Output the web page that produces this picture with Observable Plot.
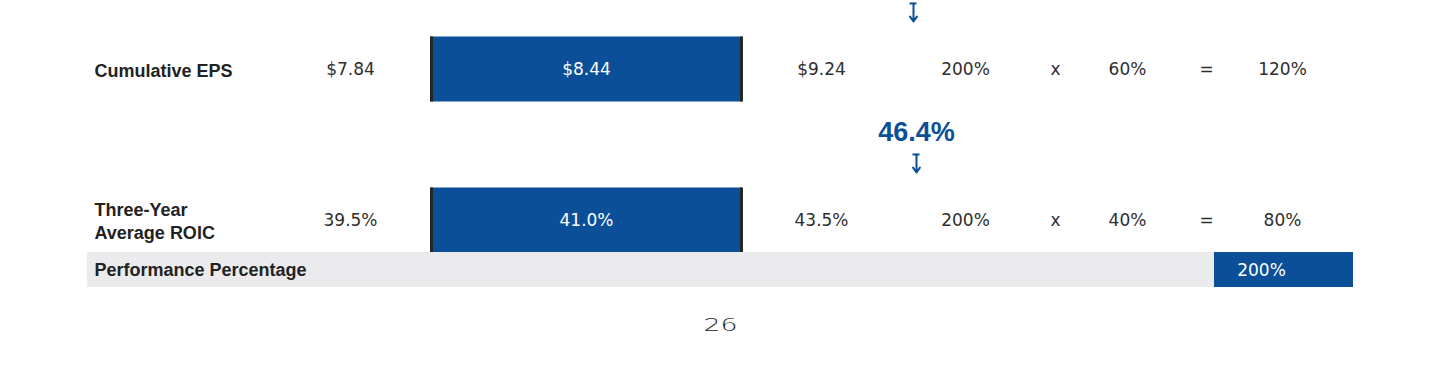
<!DOCTYPE html>
<html>
<head>
<meta charset="utf-8">
<script src="https://cdn.jsdelivr.net/npm/d3@7"></script>
<script src="https://cdn.jsdelivr.net/npm/@observablehq/plot@0.6"></script>
<style>
  html, body { margin: 0; padding: 0; background: #fff; }
  #chart svg { display: block; }
</style>
</head>
<body>
<div id="chart"></div>
<script>
// ---- data ----
const metrics   = ["Cumulative EPS", "Three-Year\nAverage ROIC"];
const threshold = ["$7.84", "39.5%"];
const target    = ["$8.44", "41.0%"];
const maximum   = ["$9.24", "43.5%"];
const payout    = ["200%", "200%"];
const weight    = ["60%", "40%"];
const weighted  = ["120%", "80%"];
const actual    = ["", "46.4%"];
const totalLabel = ["Performance Percentage"];
const totalValue = ["200%"];
const pageNumber = ["26"];

// ---- layout (pixel positions) ----
const W = 1440, H = 376;
const rowY = [69, 220];
const barHalf = 32.5;
const col = {label: 94, threshold: 350, target: 586, maximum: 821, payout: 965,
             times: 1055, weight: 1127, equals: 1206, result: 1282};
const barX = [430, 742];
const arrowX = [913, 916];
const band = {x1: 87, x2: 1353, split: 1214, y1: 252, y2: 287};

const BLUE = "#0c4f99";
const INK = "#222222";
const NUM_INK = "#2e2e2e";
const NUM_FONT = "DejaVu Sans";
const LAB_FONT = "Liberation Sans";

const rows = metrics.map((m, i) => ({
  i, metric: m, threshold: threshold[i], target: target[i], maximum: maximum[i],
  payout: payout[i], weight: weight[i], weighted: weighted[i], actual: actual[i]
}));

const yc = d => rowY[d.i];
const numText = (field, x, extra = {}) => Plot.text(rows, {
  x: () => x, y: yc, text: field, fill: NUM_INK, fontSize: 17,
  fontFamily: NUM_FONT, textAnchor: "middle", lineAnchor: "middle", ...extra
});

const chart = Plot.plot({
  width: W, height: H, margin: 0,
  x: {type: "linear", domain: [0, W], range: [0, W], axis: null},
  y: {type: "linear", domain: [0, H], range: [0, H], axis: null},
  style: {background: "#fff"},
  marks: [
    // target bars
    Plot.rect(rows, {x1: () => barX[0], x2: () => barX[1],
      y1: d => rowY[d.i] - barHalf, y2: d => rowY[d.i] + barHalf, fill: BLUE}),
    Plot.ruleX(rows, {x: () => barX[0] + 1, y1: d => rowY[d.i] - barHalf, y2: d => rowY[d.i] + barHalf,
      stroke: "#262626", strokeWidth: 3}),
    Plot.ruleX(rows, {x: () => barX[1] - 1, y1: d => rowY[d.i] - barHalf, y2: d => rowY[d.i] + barHalf,
      stroke: "#262626", strokeWidth: 3}),
    // performance band
    Plot.rect(totalLabel, {x1: () => band.x1, x2: () => band.split, y1: () => band.y1, y2: () => band.y2, fill: "#ebebed"}),
    Plot.rect(totalValue, {x1: () => band.split, x2: () => band.x2, y1: () => band.y1, y2: () => band.y2, fill: BLUE}),
    Plot.text(totalLabel, {x: () => col.label, y: () => (band.y1 + band.y2) / 2, text: d => d,
      textAnchor: "start", lineAnchor: "middle", fontFamily: LAB_FONT, fontWeight: "bold", fontSize: 18, fill: INK}),
    Plot.text(totalValue, {x: () => col.result - 21, y: () => (band.y1 + band.y2) / 2 + 1, text: d => d,
      textAnchor: "middle", lineAnchor: "middle", fontFamily: NUM_FONT, fontSize: 17, fill: "#fff"}),
    // metric labels
    Plot.text(rows, {x: () => col.label, y: yc, text: "metric", textAnchor: "start", lineAnchor: "middle",
      fontFamily: LAB_FONT, fontWeight: "bold", fontSize: 18, lineHeight: 1.28, fill: INK}),
    // numbers
    numText("threshold", col.threshold),
    numText("target", col.target, {fill: "#fff"}),
    numText("maximum", col.maximum),
    numText("payout", col.payout),
    numText(() => "x", col.times),
    numText("weight", col.weight),
    numText(() => "=", col.equals),
    numText("weighted", col.result),
    // actual markers
    Plot.arrow(rows, {x1: d => arrowX[d.i], x2: d => arrowX[d.i],
      y1: d => rowY[d.i] - 66, y2: d => rowY[d.i] - 48,
      stroke: BLUE, strokeWidth: 2, headLength: 6, headAngle: 70}),
    Plot.ruleY(rows, {y: d => rowY[d.i] - 66, x1: d => arrowX[d.i] - 3.5, x2: d => arrowX[d.i] + 3.5,
      stroke: BLUE, strokeWidth: 2}),
    Plot.text(rows.filter(d => d.actual), {x: d => arrowX[d.i], y: d => rowY[d.i] - 88, text: "actual",
      fontFamily: LAB_FONT, fontWeight: "bold", fontSize: 27, fill: BLUE, lineAnchor: "middle"}),
    // page number
    Plot.text(pageNumber, {x: () => 720, y: () => 325, text: d => d, fontFamily: NUM_FONT,
      fontWeight: 300, fontSize: 18, fill: INK, lineAnchor: "middle", className: "pagenum"})
  ]
});
document.getElementById("chart").appendChild(chart);
// stretch page number wide like the original typeface
d3.select(chart).selectAll(".pagenum text").attr("textLength", 34).attr("lengthAdjust", "spacingAndGlyphs");
</script>
</body>
</html>
